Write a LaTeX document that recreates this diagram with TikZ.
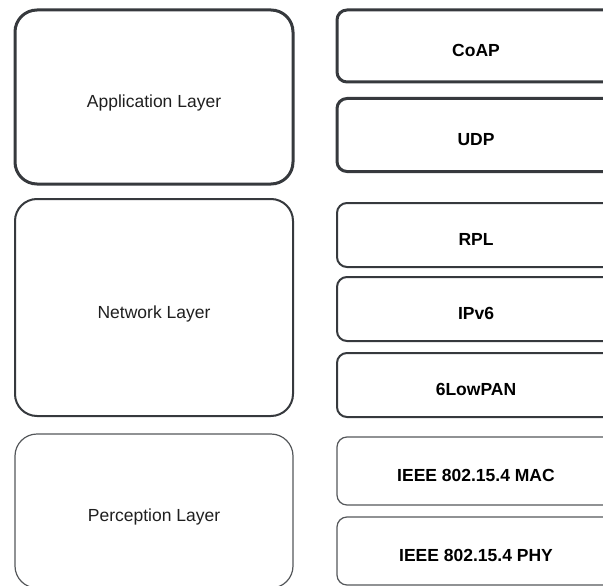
\documentclass[tikz,border=0pt]{standalone}
\usepackage{fontspec}
\setmainfont{Liberation Sans}
\usetikzlibrary{%
	positioning,%
	calc%
}
\definecolor{edgegray}{HTML}{36393D}
\definecolor{textgray}{HTML}{1F1F1F}

\tikzset{
	layerbox/.style={draw=edgegray, rounded corners=22pt, minimum width=278pt, inner sep=0pt, text height=24pt, text depth=3pt, text=textgray, font=\fontsize{17.5}{20}\selectfont},
	protobox/.style={draw=edgegray, rounded corners=10pt, minimum width=278pt, inner sep=0pt, text height=24pt, text depth=3pt, font=\bfseries\fontsize{17.5}{20}\selectfont},
	heavy/.style={line width=3pt},
	medium/.style={line width=2pt},
	light/.style={line width=1.2pt, draw=edgegray!85}
}

\begin{document}
\begin{tikzpicture}[x=1pt, y=-1pt]
			% Fix the page and cut off what runs past it
			\useasboundingbox (0,0) rectangle (603,586);
			\clip (0,0) rectangle (603,586);
			
			% Draw the three layers on the left
			\node[layerbox, heavy, minimum height=174pt] (app) at (154,97) {Application Layer};
			\node[layerbox, medium, minimum height=217pt] (net) at (154,307.5) {Network Layer};
			\node[layerbox, light, minimum height=154pt] (per) at (154,511) {Perception Layer};
			
			% Draw the protocol stack on the right
			\foreach \name/\y/\h/\wt/\txt in {coap/46/72/heavy/CoAP, udp/135/73/heavy/UDP,
				rpl/235/64/medium/RPL, ipv/309/64/medium/IPv6, lowpan/385/64/medium/6LowPAN,
				mac/471/68/light/IEEE 802.15.4 MAC, phy/551/68/light/IEEE 802.15.4 PHY} {
				\node[protobox, \wt, minimum height=\h pt] (\name) at (476,\y) {\txt};
			}
		\end{tikzpicture}
\end{document}
